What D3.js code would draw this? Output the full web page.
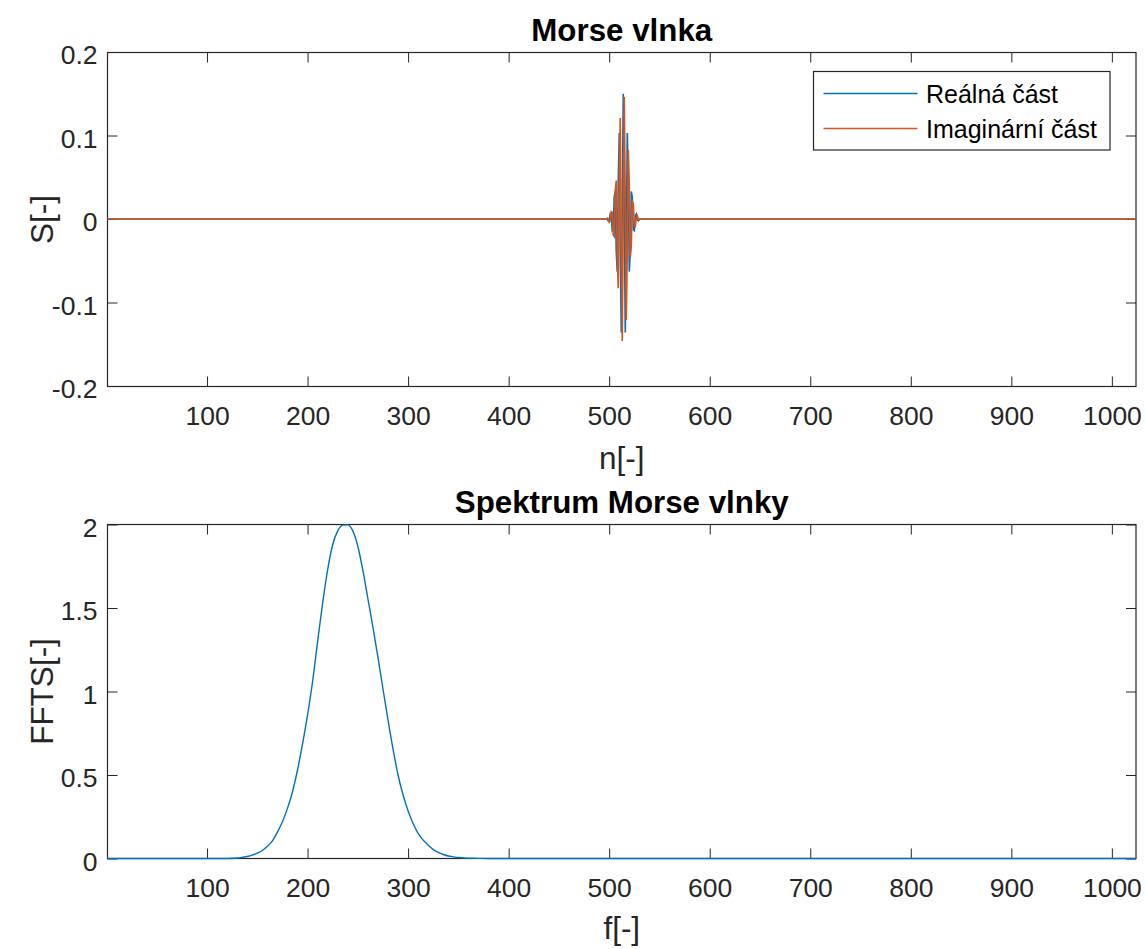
<!DOCTYPE html>
<html>
<head>
<meta charset="utf-8">
<script src="https://cdn.jsdelivr.net/npm/d3@7"></script>
<style>
  html, body { margin: 0; padding: 0; background: #fff; }
  svg { display: block; font-family: "Liberation Sans", Arial, Helvetica, sans-serif; }
</style>
</head>
<body>
<svg id="chart" width="1145" height="949"></svg>
<script>
// ---------------- DATA ----------------
// Top plot: Morse wavelet (time domain), non-zero window starting at sample n = 498
const waveletStart = 498;
const realPart = [0.000, -0.002, -0.001, 0.006, 0.004, -0.014, -0.013, 0.026, 0.033, -0.038, -0.063,
  0.044, 0.103, -0.037, -0.136, 0.014, 0.150, 0.014, -0.136, -0.037, 0.103, 0.044, -0.063, -0.038,
  0.033, 0.026, -0.013, -0.014, 0.004, 0.006, -0.001, -0.002, 0.000];
const imagPart = [0.001, 0.000, -0.004, -0.002, 0.009, 0.008, -0.019, -0.021, 0.033, 0.046, -0.042,
  -0.083, 0.043, 0.121, -0.027, -0.146, 0.000, 0.146, 0.027, -0.121, -0.043, 0.083, 0.042, -0.046,
  -0.033, 0.021, 0.019, -0.008, -0.009, 0.002, 0.004, 0.000, -0.001];
const nSamples = 1024;

// Bottom plot: spectrum magnitude read at frequencies (zero elsewhere)
const specFreq = [1, 120, 130, 135, 140, 145, 150, 155, 160, 165, 170, 175, 180, 185, 190, 195, 200, 205, 210,
  215, 220, 225, 230, 235, 240, 245, 250, 255, 260, 265, 270, 275, 280, 285, 290, 295, 300, 305,
  310, 315, 320, 325, 330, 335, 340, 345, 350, 355, 360, 370, 380, 1024];
const specVal = [0, 0.000, 0.003, 0.007, 0.012, 0.020, 0.032, 0.048, 0.073, 0.105, 0.158, 0.220, 0.300, 0.400, 0.530, 0.686,
  0.860, 1.060, 1.300, 1.530, 1.730, 1.880, 1.962, 1.996, 1.998, 1.962, 1.870, 1.725, 1.555, 1.385,
  1.205, 1.015, 0.830, 0.655, 0.500, 0.380, 0.285, 0.210, 0.150, 0.110, 0.080, 0.053, 0.036, 0.024,
  0.015, 0.010, 0.006, 0.004, 0.002, 0.001, 0.000, 0];

const xTicks = [100, 200, 300, 400, 500, 600, 700, 800, 900, 1000];
const yTicksTop = [-0.2, -0.1, 0, 0.1, 0.2];
const yTickLabelsTop = ["-0.2", "-0.1", "0", "0.1", "0.2"];
const yTicksBot = [0, 0.5, 1, 1.5, 2];
const yTickLabelsBot = ["0", "0.5", "1", "1.5", "2"];

const titles = ["Morse vlnka", "Spektrum Morse vlnky"];
const xLabels = ["n[-]", "f[-]"];
const yLabels = ["S[-]", "FFTS[-]"];
const legendLabels = ["Reálná část", "Imaginární část"];
const colors = ["#0072BD", "#D95319"];

// ---------------- LAYOUT ----------------
const svg = d3.select("#chart");
const axisColor = "#262626";
const L = 107.5, R = 1136;
const panels = [
  { top: 52.5, bottom: 386.5, yTop: 52, yBot: 386 },
  { top: 524.5, bottom: 858.5, yTop: 524.5, yBot: 858.5 }
];
const tickFont = 26.5;

const x = d3.scaleLinear().domain([1, 1024]).range([L, R]);

function drawAxes(g, y, yTicks, yLabs, p) {
  const h = p.bottom - p.top;
  const ab = g.append("g").attr("transform", `translate(0,${p.bottom})`)
    .call(d3.axisBottom(x).tickValues(xTicks).tickSizeInner(-10).tickSizeOuter(0).tickPadding(20).tickFormat(d3.format("d")));
  const at = g.append("g").attr("transform", `translate(0,${p.top})`)
    .call(d3.axisTop(x).tickValues(xTicks).tickSizeInner(-10).tickSizeOuter(0).tickFormat(""));
  const al = g.append("g").attr("transform", `translate(${L},0)`)
    .call(d3.axisLeft(y).tickValues(yTicks).tickSizeInner(-10).tickSizeOuter(0).tickPadding(10)
      .tickFormat((d, i) => yLabs[i]));
  const ar = g.append("g").attr("transform", `translate(${R},0)`)
    .call(d3.axisRight(y).tickValues(yTicks).tickSizeInner(-10).tickSizeOuter(0).tickFormat(""));
  [ab, at, al, ar].forEach(a => {
    a.select(".domain").remove();
    a.selectAll("line").attr("stroke", axisColor).attr("stroke-width", 1);
    a.selectAll("text").attr("fill", axisColor).attr("font-size", tickFont)
      .attr("font-family", "Liberation Sans, Arial, sans-serif");
  });
  al.selectAll("text").attr("dy", "0.45em");
  g.append("rect").attr("x", L).attr("y", p.top).attr("width", R - L).attr("height", h)
    .attr("fill", "none").attr("stroke", axisColor).attr("stroke-width", 1.2);
}

// ---------- Panel 1 ----------
const p1 = panels[0];
const y1 = d3.scaleLinear().domain([-0.2, 0.2]).range([p1.yBot, p1.yTop]);
const g1 = svg.append("g");
drawAxes(g1, y1, yTicksTop, yTickLabelsTop, p1);

const realFull = d3.range(1, nSamples + 1).map(n => {
  const k = n - waveletStart;
  return { n, v: (k >= 0 && k < realPart.length) ? realPart[k] : 0 };
});
const imagFull = d3.range(1, nSamples + 1).map(n => {
  const k = n - waveletStart;
  return { n, v: (k >= 0 && k < imagPart.length) ? imagPart[k] : 0 };
});
const line1 = d3.line().x(d => x(d.n)).y(d => y1(d.v));
g1.append("path").datum(realFull).attr("d", line1).attr("fill", "none")
  .attr("stroke", colors[0]).attr("stroke-width", 1.6);
g1.append("path").datum(imagFull).attr("d", line1).attr("fill", "none")
  .attr("stroke", colors[1]).attr("stroke-width", 1.6);

// legend
const lg = svg.append("g");
const lx = 813.5, ly = 71.5, lw = 296.5, lh = 78.5;
lg.append("rect").attr("x", lx).attr("y", ly).attr("width", lw).attr("height", lh)
  .attr("fill", "#fff").attr("stroke", axisColor).attr("stroke-width", 1.2);
legendLabels.forEach((t, i) => {
  const yy = 93.5 + i * 35;
  lg.append("line").attr("x1", 823.5).attr("x2", 917.5).attr("y1", yy).attr("y2", yy)
    .attr("stroke", colors[i]).attr("stroke-width", 1.3);
  lg.append("text").attr("x", 926).attr("y", yy).attr("dy", "0.36em")
    .attr("font-size", 25).attr("fill", "#000").text(t);
});

// ---------- Panel 2 ----------
const p2 = panels[1];
const y2 = d3.scaleLinear().domain([0, 2]).range([p2.yBot, p2.yTop]);
const g2 = svg.append("g");
drawAxes(g2, y2, yTicksBot, yTickLabelsBot, p2);
const specData = specFreq.map((f, i) => ({ f, v: specVal[i] }));
g2.append("path").datum(specData)
  .attr("d", d3.line().x(d => x(d.f)).y(d => y2(d.v)).curve(d3.curveMonotoneX))
  .attr("fill", "none").attr("stroke", colors[0]).attr("stroke-width", 1.4);

// ---------- Titles and labels ----------
const cx = (L + R) / 2;
const titleY = [41, 513];
const xLabY = [469, 939];
titles.forEach((t, i) => {
  svg.append("text").attr("x", cx).attr("y", titleY[i]).attr("text-anchor", "middle")
    .attr("font-size", 31.3).attr("font-weight", "bold").attr("fill", "#000").text(t);
  svg.append("text").attr("x", cx).attr("y", xLabY[i]).attr("text-anchor", "middle")
    .attr("font-size", 31.5).attr("fill", axisColor).text(xLabels[i]);
  const p = panels[i];
  svg.append("text").attr("transform", `translate(53,${(p.top + p.bottom) / 2}) rotate(-90)`)
    .attr("text-anchor", "middle").attr("font-size", 31.5).attr("fill", axisColor).text(yLabels[i]);
});
</script>
</body>
</html>
